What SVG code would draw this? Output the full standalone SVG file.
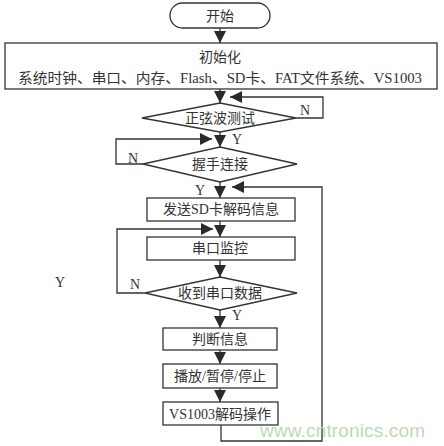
<svg xmlns="http://www.w3.org/2000/svg" width="444" height="446" viewBox="0 0 444 446">
<defs>
<marker id="ah" markerUnits="userSpaceOnUse" markerWidth="12" markerHeight="12" viewBox="0 0 10 10" refX="10" refY="5" orient="auto">
<path d="M0,0 L10,5 L0,10 Z" fill="#2a2a2a"/>
</marker>
<style>
.s{fill:#fff;stroke:#333;stroke-width:1.3}
.c{fill:none;stroke:#333;stroke-width:1.3}
.t{font-family:"Liberation Serif","Noto Sans CJK SC",serif;font-size:14px;fill:#333;text-anchor:middle}
.l{font-family:"Liberation Serif","Noto Sans CJK SC",serif;font-size:14px;fill:#333}
</style>
</defs>
<rect width="444" height="446" fill="#fff"/>
<g id="connectors">
<line class="c" x1="220" y1="28" x2="220" y2="43" marker-end="url(#ah)"/>
<line class="c" x1="220" y1="89" x2="220" y2="103" marker-end="url(#ah)"/>
<polyline class="c" points="296,118 323,118 323,97 230,97" marker-end="url(#ah)"/>
<line class="c" x1="220" y1="132" x2="220" y2="147" marker-end="url(#ah)"/>
<polyline class="c" points="143,164 116,164 116,139 212,139" marker-end="url(#ah)"/>
<line class="c" x1="220" y1="182" x2="220" y2="198" marker-end="url(#ah)"/>
<polyline class="c" points="221,425 221,441 322,441 322,187 232,187" marker-end="url(#ah)"/>
<line class="c" x1="220" y1="221" x2="220" y2="237" marker-end="url(#ah)"/>
<polyline class="c" points="145,293 117,293 117,229 213,229" marker-end="url(#ah)"/>
<line class="c" x1="220" y1="260" x2="220" y2="277" marker-end="url(#ah)"/>
<line class="c" x1="220" y1="310" x2="220" y2="328" marker-end="url(#ah)"/>
<line class="c" x1="220" y1="350" x2="220" y2="364" marker-end="url(#ah)"/>
<line class="c" x1="220" y1="388" x2="220" y2="402" marker-end="url(#ah)"/>
<text class="l" x="300" y="115">N</text>
<text class="l" x="232" y="144">Y</text>
<text class="l" x="128" y="163">N</text>
<text class="l" x="195" y="195">Y</text>
<text class="l" x="130" y="289">N</text>
<text class="l" x="232" y="320">Y</text>
<text class="l" x="55" y="287">Y</text>
</g>
<g id="start">
<rect class="s" x="170" y="3" width="100" height="25" rx="12.5"/>
<text class="t" x="220" y="21">开始</text>
</g>
<g id="init">
<rect class="s" x="5" y="43" width="432" height="46"/>
<text class="t" x="220" y="62">初始化</text>
<text class="t" x="220" y="83" textLength="404" lengthAdjust="spacingAndGlyphs">系统时钟、串口、内存、Flash、SD卡、FAT文件系统、VS1003</text>
</g>
<g id="sine">
<polygon class="s" points="220,103 296,118 220,132 142,118"/>
<text class="t" x="220" y="123">正弦波测试</text>
</g>
<g id="handshake">
<polygon class="s" points="220,147 297,164 220,182 143,164"/>
<text class="t" x="220" y="169">握手连接</text>
</g>
<g id="send">
<rect class="s" x="147" y="198" width="148" height="23"/>
<text class="t" x="221" y="214">发送SD卡解码信息</text>
</g>
<g id="monitor">
<rect class="s" x="147" y="237" width="148" height="23"/>
<text class="t" x="220" y="253">串口监控</text>
</g>
<g id="recv">
<polygon class="s" points="220,277 297,293 220,310 145,293"/>
<text class="t" x="220" y="298">收到串口数据</text>
</g>
<g id="judge">
<rect class="s" x="163" y="328" width="114" height="22"/>
<text class="t" x="220" y="344">判断信息</text>
</g>
<g id="play">
<rect class="s" x="163" y="364" width="114" height="24"/>
<text class="t" x="220" y="381">播放/暂停/停止</text>
</g>
<g id="decode">
<rect class="s" x="163" y="402" width="115" height="23"/>
<text class="t" x="220" y="419">VS1003解码操作</text>
</g>
<text x="260" y="437" font-family="Liberation Sans, Arial, sans-serif" font-size="19" fill="#bcdab4" textLength="165">www.cntronics.com</text>
</svg>
